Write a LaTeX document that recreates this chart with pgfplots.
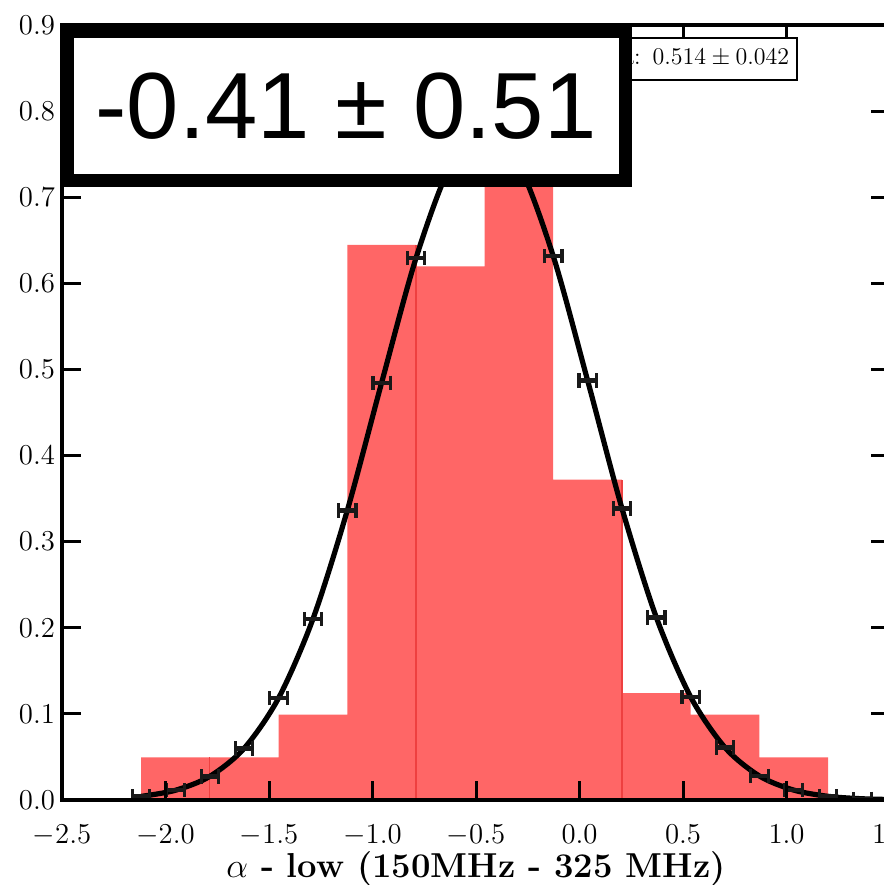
\documentclass[border=0pt]{standalone}
\usepackage{pgfplots}
\pgfplotsset{compat=1.18}
\usepackage{pgfplotstable}
\usepackage{fontspec}
\newfontfamily\boxfont{Liberation Sans}

\definecolor{barred}{RGB}{255,102,102}
\definecolor{edgered}{RGB}{238,64,64}

% normalised histogram of the spectral index (bin edges, density)
\pgfplotstableread{
x       y
-2.118  0.0496
-1.786  0.0496
-1.454  0.0992
-1.122  0.6446
-0.790  0.6198
-0.459  0.8926
-0.127  0.3719
0.205   0.1240
0.537   0.0992
0.869   0.0496
1.201   0.0496
}\histdata

% fitted profile sampled at bin edges and centres, with x uncertainties
\pgfplotstableread{
x       y        ex
-2.118  0.00419  0.042
-1.952  0.01129  0.042
-1.786  0.02743  0.042
-1.620  0.06001  0.042
-1.454  0.11832  0.042
-1.288  0.21009  0.042
-1.122  0.33613  0.042
-0.956  0.48456  0.042
-0.790  0.62923  0.042
-0.624  0.73630  0.042
-0.459  0.77620  0.042
-0.293  0.73767  0.042
-0.127  0.63164  0.042
0.039   0.48728  0.042
0.205   0.33868  0.042
0.371   0.21207  0.042
0.537   0.11967  0.042
0.703   0.06081  0.042
0.869   0.02785  0.042
1.035   0.01149  0.042
1.201   0.00427  0.042
1.367   0.00143  0.042
1.533   0.00043  0.042
}\fitdata

\begin{document}
\begin{tikzpicture}
\begin{axis}[
  name=ax,
  at={(0,0)}, anchor=south west,
  scale only axis,
  width=414pt, height=387.5pt,
  xmin=-2.5, xmax=1.5,
  ymin=0, ymax=0.9,
  xtick={-2.5,-2,-1.5,-1,-0.5,0,0.5,1,1.5},
  ytick={0,0.1,0.2,0.3,0.4,0.5,0.6,0.7,0.8,0.9},
  xticklabel style={/pgf/number format/fixed, /pgf/number format/fixed zerofill,
    /pgf/number format/precision=1, font=\fontsize{14.5}{16}\selectfont,
    anchor=base, yshift=-22pt},
  yticklabel style={/pgf/number format/fixed, /pgf/number format/fixed zerofill,
    /pgf/number format/precision=1, font=\fontsize{14.5}{16}\selectfont},
  tick align=inside,
  major tick length=9.5pt,
  every tick/.style={black, line width=1.5pt},
  axis line style={line width=1.6pt},
  axis on top,
]
\addplot[ybar interval, fill=barred, draw=none] table[x=x, y=y] {\histdata};
\addplot[ycomb, draw=edgered, line width=0.6pt, mark=none] coordinates {
  (-1.786,0.0496) (-0.790,0.6446) (0.205,0.3719)};
\addplot[black, line width=2.6pt, smooth, mark=none,
  error bars/.cd, x dir=both, x explicit,
  error bar style={line width=2.2pt, black!90},
  error mark options={rotate=90, line width=1.6pt, mark size=3.6pt, black!90}]
  table[x=x, y=y, x error=ex] {\fitdata};
\coordinate (bigc) at (axis cs:-1.128,0.806);
\coordinate (sigc) at (axis cs:1.0556,0.886);
\end{axis}
% axis title under the tick labels
\node[anchor=base, font=\bfseries\fontsize{17.3}{20}\selectfont]
  at ([shift={(207pt,-39pt)}]ax.south west) {$\alpha$ - low (150MHz - 325 MHz)};
\node[draw, fill=white, line width=1pt, anchor=north east, minimum height=21pt,
  inner xsep=4pt, font=\fontsize{12}{14}\selectfont] at (sigc)
  {sigma:\enspace $0.514\pm0.042$};
\node[draw, fill=white, line width=6.5pt, minimum width=279pt, minimum height=74.5pt,
  font=\boxfont\fontsize{47}{50}\selectfont] at (bigc) {-0.41 ± 0.51};
\pgfresetboundingbox
\path ([shift={(-31pt,-42.5pt)}]ax.south west) rectangle ([shift={(410.5pt,12.5pt)}]ax.north west);
\end{tikzpicture}
\end{document}
